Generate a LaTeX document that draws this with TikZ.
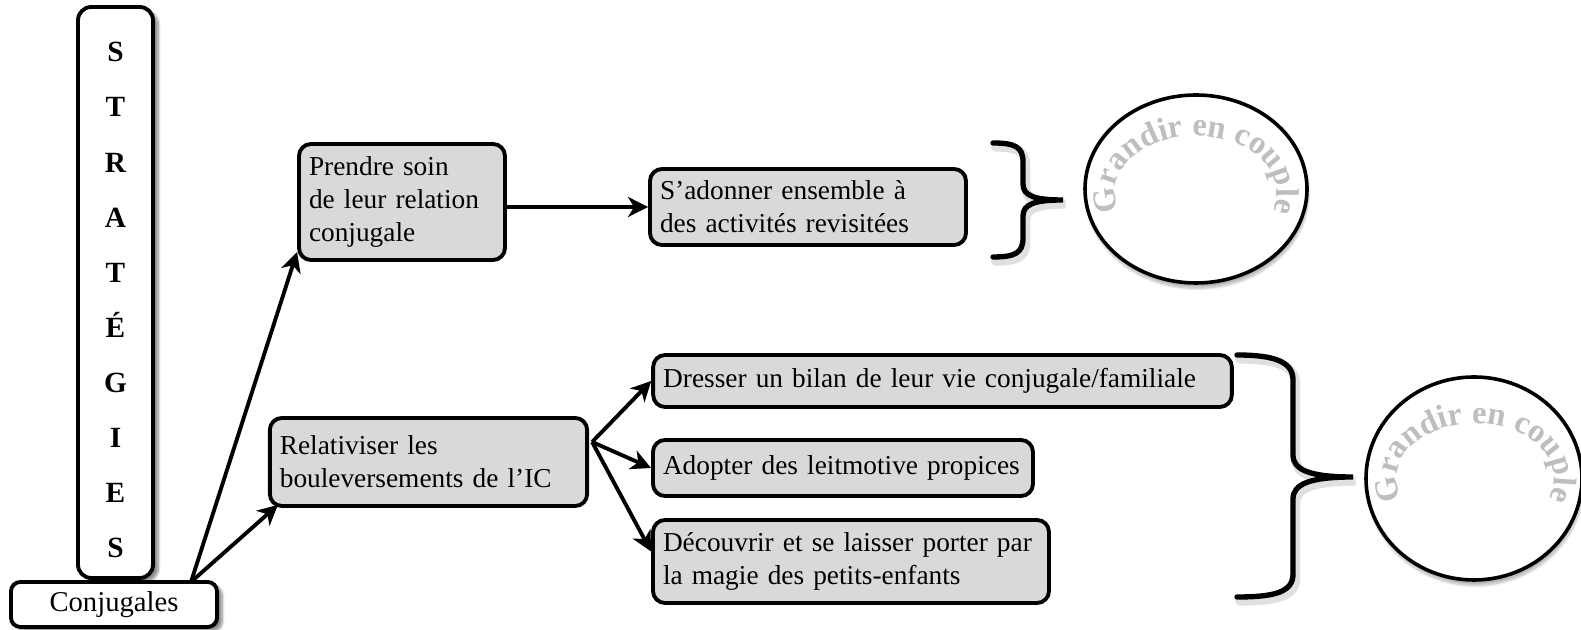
\documentclass[tikz,border=0pt]{standalone}
\usepackage{fontspec}
\setmainfont{Liberation Serif}
\usetikzlibrary{arrows.meta,decorations.text,shadows.blur,shapes.geometric,calc}
\definecolor{boxgray}{HTML}{D9D9D9}
\definecolor{arcgray}{HTML}{BEBEBE}

\begin{document}
\begin{tikzpicture}[x=0.75pt,y=0.75pt,
  every node/.style={font=\fontsize{20.5}{24.75}\selectfont},
  stepbox/.style={draw, line width=2.9pt, rounded corners=9pt, fill=boxgray,
    align=left, inner xsep=7.5pt, inner ysep=0pt},
  plainbox/.style={draw, line width=2.9pt, fill=white,
    blur shadow={shadow xshift=4pt, shadow yshift=-3pt, shadow blur steps=12, shadow opacity=45}},
  ring/.style={draw, ellipse, line width=2.7pt, fill=white, inner sep=0pt,
    blur shadow={shadow xshift=1pt, shadow yshift=-4pt, shadow blur steps=14, shadow opacity=30}},
  conn/.style={line width=2.9pt, -{Stealth[length=15pt,width=15pt,inset=4.5pt]}},
  brace/.style={line width=4pt, line cap=round},
  braceshade/.style={line width=7pt, line cap=round, draw=black, opacity=0.12},
  arctext/.style={decorate, decoration={text along path, text align=center,
    text color=arcgray, text={|\bfseries\fontsize{24.5}{28}\selectfont|Grandir en couple}}},
]
\useasboundingbox (0,0) rectangle (1581,630);

% left column
\node[plainbox, rounded corners=10pt, minimum width=56.25pt, minimum height=428.25pt,
  inner sep=0pt, align=center, font=\bfseries\fontsize{22}{41.3}\selectfont]
  (strat) at (115.5,337.5) {\rule{0pt}{26pt}S\\T\\R\\A\\T\\É\\G\\I\\E\\S};
\node[plainbox, rounded corners=7pt, minimum width=154.5pt, minimum height=33.75pt,
  inner sep=0pt, font=\fontsize{21.5}{24}\selectfont] (conj) at (114,25.5) {Conjugales};

% strategies
\node[stepbox, text width=139.5pt, minimum height=87pt] (prendre) at (402,428)
  {Prendre soin\\de leur relation\\conjugale};
\node[stepbox, text width=222pt, minimum height=57pt] (adonner) at (808,423)
  {S’adonner ensemble à\\des activités revisitées};
\node[stepbox, text width=223pt, minimum height=66pt] (relat) at (428.5,168)
  {Relativiser les\\bouleversements de l’IC};
\node[stepbox, text width=419pt, minimum height=39pt] (dresser) at (942.5,249)
  {Dresser un bilan de leur vie conjugale/familiale};
\node[stepbox, text width=270pt, minimum height=42pt] (adopter) at (843,162)
  {Adopter des leitmotive propices};
\node[stepbox, text width=282pt, minimum height=62.25pt] (decouvrir) at (851,68.5)
  {Découvrir et se laisser porter par\\la magie des petits-enfants};

% connectors
\coordinate (cs) at (191,48);
\coordinate (rs) at ($(relat.east)+(3,20)$);
\draw[conn] (cs) -- ($(prendre.south west)+(0,10)$);
\draw[conn] (cs) -- ($(relat.south west)+(10,3)$);
\draw[conn] (prendre.east |- adonner.west) -- (adonner.west);
\draw[conn] (rs) -- (dresser.west);
\draw[conn] (rs) -- (adopter.west);
\draw[conn] (rs) -- ($(decouvrir.west)+(0,10)$);

% braces
\draw[braceshade, xshift=2pt, yshift=-3pt]
  (993,487) .. controls (1015,487) and (1023,483) .. (1023,468) -- (1023,446)
  .. controls (1023,434) and (1035,430) .. (1063,430)
  .. controls (1035,430) and (1023,426) .. (1023,414) -- (1023,392)
  .. controls (1023,377) and (1015,373) .. (993,373);
\draw[brace]
  (993,487) .. controls (1015,487) and (1023,483) .. (1023,468) -- (1023,446)
  .. controls (1023,434) and (1035,430) .. (1063,430)
  .. controls (1035,430) and (1023,426) .. (1023,414) -- (1023,392)
  .. controls (1023,377) and (1015,373) .. (993,373);
\draw[braceshade, xshift=2pt, yshift=-3pt]
  (1237,275) .. controls (1275,275) and (1293,268) .. (1293,250) -- (1293,175)
  .. controls (1293,160) and (1310,153) .. (1353,153)
  .. controls (1310,153) and (1293,146) .. (1293,131) -- (1293,56)
  .. controls (1293,38) and (1275,33) .. (1237,33);
\draw[brace]
  (1237,275) .. controls (1275,275) and (1293,268) .. (1293,250) -- (1293,175)
  .. controls (1293,160) and (1310,153) .. (1353,153)
  .. controls (1310,153) and (1293,146) .. (1293,131) -- (1293,56)
  .. controls (1293,38) and (1275,33) .. (1237,33);

% outcome circles
\node[ring, minimum width=166.5pt, minimum height=141pt] (g1) at (1196,441) {};
\node[ring, minimum width=162pt, minimum height=152.25pt] (g2) at (1474,151.5) {};
\path[arctext] ($(g1.center)+(0,-4)$) ++(225:81 and 57)
  arc[start angle=225, end angle=-45, x radius=81, y radius=57];
\path[arctext] ($(g2.center)+(1.5,0)$) ++(225:79 and 55)
  arc[start angle=225, end angle=-45, x radius=79, y radius=55];
\end{tikzpicture}
\end{document}
